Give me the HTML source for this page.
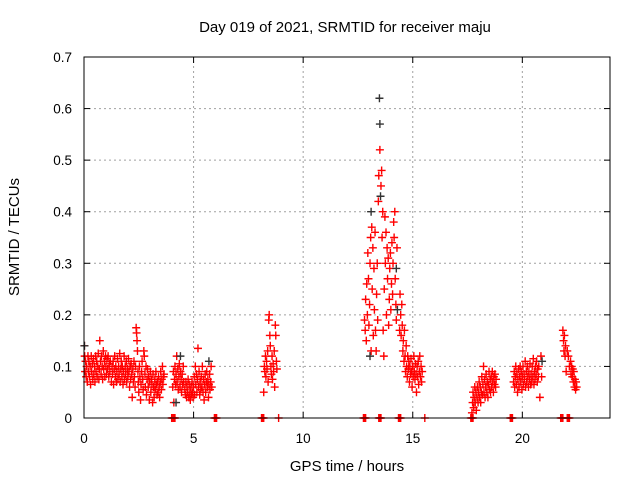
<!DOCTYPE html>
<html><head><meta charset="utf-8"><style>
html,body{margin:0;padding:0;background:#fff;}
svg{display:block;font-family:"Liberation Sans",sans-serif;}
</style></head><body>
<svg id="chart" width="640" height="480" viewBox="0 0 640 480">
<rect x="0" y="0" width="640" height="480" fill="#fff"/>
<text x="345" y="32" font-size="15" text-anchor="middle" fill="#000">Day 019 of 2021, SRMTID for receiver maju</text>
<text x="347" y="471" font-size="15" text-anchor="middle" fill="#000">GPS time / hours</text>
<text transform="translate(19,237) rotate(-90)" font-size="15" text-anchor="middle" fill="#000">SRMTID / TECUs</text>
<g id="grid"></g>
<g id="ticks"></g>
<g id="marks"></g>
<rect x="84" y="57" width="526" height="361" fill="none" stroke="#000" stroke-width="1"/>
</svg>
<script>
const xTicks = [0, 5, 10, 15, 20];
const yTicks = [0, 0.1, 0.2, 0.3, 0.4, 0.5, 0.6, 0.7];
const yTickLabels = ["0", "0.1", "0.2", "0.3", "0.4", "0.5", "0.6", "0.7"];
const redSeries = [
[0.02,.14],[0.03,.12],[0.05,.09],[0.07,.11],[0.1,.08],[0.12,.1],[0.15,.07],[0.18,.12],[0.2,.09],[0.22,.11],[0.25,.08],[0.28,.1],[0.3,.065],[0.33,.12],[0.35,.09],[0.38,.105],[0.4,.075],[0.43,.115],[0.45,.085],[0.48,.1],[0.5,.07],[0.53,.12],[0.55,.09],[0.58,.11],[0.6,.08],[0.63,.1],[0.65,.125],[0.68,.075],[0.7,.095],[0.72,.15],[0.75,.11],[0.78,.085],[0.8,.12],[0.83,.1],[0.85,.075],[0.88,.13],[0.9,.095],[0.93,.11],[0.95,.08],[0.98,.12],[1.0,.1],[1.03,.085],[1.05,.115],[1.08,.095],[1.1,.12],[1.13,.08],[1.15,.105],[1.18,.09],[1.2,.11],[1.25,.07],[1.28,.1],
[1.3,.085],[1.33,.11],[1.35,.065],[1.38,.095],[1.4,.12],[1.43,.08],[1.45,.1],[1.48,.07],[1.5,.09],[1.53,.115],[1.55,.075],[1.58,.1],[1.6,.085],[1.63,.125],[1.65,.07],[1.68,.095],[1.7,.11],[1.73,.08],[1.75,.1],[1.78,.065],[1.8,.09],[1.83,.12],[1.85,.075],[1.88,.1],[1.9,.085],[1.93,.11],[1.95,.07],[1.98,.095],[2.0,.08],[2.03,.115],[2.05,.09],[2.08,.06],[2.1,.1],[2.13,.075],[2.15,.105],[2.18,.085],[2.2,.04],[2.23,.095],[2.25,.07],[2.28,.11],[2.3,.08],[2.33,.06],[2.35,.1],[2.38,.175],[2.4,.165],[2.42,.15],[2.44,.13],[2.46,.09],[2.48,.07],
[2.5,.05],[2.53,.1],[2.55,.08],[2.58,.035],[2.6,.065],[2.63,.09],[2.65,.11],[2.68,.075],[2.7,.055],[2.73,.13],[2.75,.12],[2.78,.085],[2.8,.06],[2.83,.1],[2.85,.045],[2.88,.075],[2.9,.095],[2.93,.06],[2.95,.08],[2.98,.035],[3.0,.07],[3.03,.09],[3.05,.05],[3.08,.075],[3.1,.065],[3.13,.03],[3.15,.085],[3.18,.06],[3.2,.04],[3.23,.075],[3.25,.055],[3.28,.09],[3.3,.065],[3.33,.045],[3.35,.07],[3.38,.05],[3.4,.08],[3.43,.06],[3.45,.04],[3.48,.07],[3.5,.09],[3.53,.055],[3.55,.075],[3.58,.1],[3.6,.065],[3.63,.08],[3.65,.085],
[4.05,.06],[4.08,.09],[4.1,.03],[4.13,.075],[4.15,.1],[4.18,.065],[4.2,.085],[4.23,.12],[4.25,.07],[4.28,.095],[4.3,.055],[4.33,.08],[4.35,.105],[4.38,.06],[4.4,.09],[4.43,.075],[4.45,.05],[4.48,.085],[4.5,.065],[4.53,.1],[4.55,.07],
[4.6,.055],[4.63,.045],[4.65,.07],[4.68,.04],[4.7,.06],[4.73,.05],[4.75,.075],[4.78,.04],[4.8,.065],[4.83,.05],[4.85,.035],[4.88,.06],[4.9,.045],[4.93,.07],[4.95,.05],[4.98,.04],[5.0,.06],[5.03,.08],[5.05,.045],[5.08,.1],[5.1,.065],[5.13,.085],[5.15,.05],[5.18,.075],[5.2,.135],[5.23,.06],[5.25,.09],[5.28,.045],[5.3,.07],[5.33,.055],[5.35,.08],[5.38,.06],[5.4,.1],[5.43,.05],[5.45,.075],[5.48,.035],[5.5,.065],[5.53,.085],[5.55,.05],[5.58,.07],[5.6,.09],[5.63,.06],[5.65,.075],[5.68,.04],[5.7,.065],[5.73,.085],[5.75,.055],[5.78,.07],[5.8,.1],[5.83,.06],
[8.2,.05],[8.23,.1],[8.25,.09],[8.28,.12],[8.3,.08],[8.33,.11],[8.35,.095],[8.38,.13],[8.4,.07],[8.43,.19],[8.45,.2],[8.48,.16],[8.5,.14],[8.53,.1],[8.55,.085],[8.58,.12],[8.6,.075],[8.63,.105],[8.65,.09],[8.68,.13],[8.7,.06],[8.73,.18],[8.75,.16],[8.78,.11],[8.8,.095],
[12.8,.19],[12.83,.17],[12.85,.23],[12.88,.15],[12.9,.26],[12.93,.2],[12.95,.32],[12.98,.27],[13.0,.18],[13.03,.22],[13.05,.3],[13.08,.35],[13.1,.13],[13.13,.37],[13.15,.25],[13.18,.33],[13.2,.16],[13.23,.29],[13.25,.21],[13.28,.36],[13.3,.17],[13.33,.13],[13.35,.24],[13.38,.3],[13.4,.19],[13.43,.42],[13.45,.47],[13.5,.52],[13.55,.45],[13.58,.48],[13.6,.35],[13.63,.4],[13.65,.17],[13.68,.12],[13.7,.25],[13.73,.39],[13.75,.3],[13.78,.36],[13.8,.2],[13.83,.33],[13.85,.27],[13.88,.31],[13.9,.18],[13.93,.23],[13.95,.29],[13.98,.32],[14.0,.21],[14.03,.26],[14.05,.34],[14.08,.24],[14.1,.3],[14.13,.38],[14.15,.35],[14.18,.4],[14.2,.27],[14.23,.22],[14.25,.19],[14.28,.33],
[14.4,.17],[14.42,.24],[14.45,.2],[14.47,.16],[14.5,.22],[14.52,.18],[14.55,.13],[14.57,.15],[14.6,.11],[14.62,.17],[14.65,.12],[14.67,.09],[14.7,.14],[14.72,.1],[14.75,.08],[14.77,.12],[14.8,.095],[14.82,.11],[14.85,.07],[14.87,.1],[14.9,.085],[14.92,.115],[14.95,.09],[14.97,.06],[15.0,.1],[15.02,.08],[15.05,.12],[15.07,.09],[15.1,.075],[15.12,.105],[15.15,.085],[15.17,.05],[15.2,.1],[15.22,.08],[15.25,.11],[15.27,.065],[15.3,.09],[15.32,.12],[15.35,.08],[15.38,.1],[15.4,.07],[15.43,.09],
[17.7,.01],[17.73,.03],[17.75,.05],[17.78,.02],[17.8,.04],[17.83,.06],[17.85,.03],[17.88,.05],[17.9,.015],[17.93,.04],[17.95,.06],[17.98,.03],[18.0,.05],[18.03,.07],[18.05,.04],[18.08,.06],[18.1,.03],[18.13,.05],[18.15,.08],[18.18,.045],[18.2,.065],[18.23,.1],[18.25,.05],[18.28,.075],[18.3,.04],[18.33,.06],[18.35,.085],[18.38,.05],[18.4,.07],[18.43,.04],[18.45,.065],[18.48,.09],[18.5,.055],[18.53,.075],[18.55,.05],[18.58,.08],[18.6,.06],[18.63,.09],[18.65,.07],[18.68,.05],[18.7,.08],[18.73,.065],[18.75,.085],[18.78,.06],[18.8,.075],
[19.6,.07],[19.63,.09],[19.65,.06],[19.68,.08],[19.7,.1],[19.73,.065],[19.75,.085],[19.78,.05],[19.8,.075],[19.83,.095],[19.85,.06],[19.88,.08],[19.9,.1],[19.93,.07],[19.95,.09],[19.98,.055],[20.0,.08],[20.03,.1],[20.05,.065],[20.08,.085],[20.1,.075],[20.13,.11],[20.15,.06],[20.18,.09],[20.2,.07],[20.23,.1],[20.25,.08],[20.28,.06],[20.3,.09],[20.33,.075],[20.35,.105],[20.38,.065],[20.4,.085],[20.43,.07],[20.45,.1],[20.48,.08],[20.5,.115],[20.53,.065],[20.55,.09],[20.58,.075],[20.6,.1],[20.63,.085],[20.65,.11],[20.68,.07],[20.7,.095],[20.73,.08],[20.75,.1],[20.8,.04],[20.85,.12],[20.88,.08],
[21.85,.17],[21.88,.15],[21.9,.13],[21.92,.16],[21.95,.12],[21.97,.14],[22.0,.09],[22.05,.13],[22.1,.12],[22.15,.1],[22.2,.11],[22.22,.085],[22.25,.1],[22.28,.08],[22.3,.095],[22.33,.07],[22.35,.09],[22.38,.06],[22.4,.075],[22.43,.055],[22.45,.07],[22.48,.06],
[4.0,0],[4.05,0],[4.1,0],[4.15,0],[5.95,0],[6.0,0],[6.05,0],[8.1,0],[8.15,0],[8.2,0],[8.88,0],[12.75,0],[12.8,0],[12.85,0],[13.45,0],[13.5,0],[13.55,0],[14.35,0],[14.4,0],[14.45,0],[15.55,0],[17.65,0],[17.7,0],[17.75,0],[19.45,0],[19.5,0],[19.55,0],[21.75,0],[21.8,0],[21.85,0],[22.05,0],[22.1,0],[22.15,0]
];
const blackSeries = [[0.02,.14],[13.48,.62],[13.5,.57],[13.53,.43],[13.1,.4],[13.05,.12],[14.3,.21],[14.25,.29],[4.4,.12],[5.7,.11],[4.2,.03],[20.9,.11]];

const X0=84, X1=610, Y0=418, Y1=57, XMAX=24, YMAX=0.7;
function xScale(v){return X0+(v/XMAX)*(X1-X0);}
function yScale(v){return Y0-(v/YMAX)*(Y0-Y1);}
const NS="http://www.w3.org/2000/svg";
const grid=document.getElementById('grid'), ticks=document.getElementById('ticks'), marks=document.getElementById('marks');
function mk(tag,attrs,parent){const e=document.createElementNS(NS,tag);for(const k in attrs)e.setAttribute(k,attrs[k]);parent.appendChild(e);return e;}

xTicks.forEach(function(t){
  const x=xScale(t);
  if(t>0){
    const g=mk('line',{x1:x,y1:Y0,x2:x,y2:Y1,stroke:'#a0a0a0','stroke-dasharray':'2,3'},grid);
    
    
  }
  const a=mk('line',{x1:x,y1:Y0,x2:x,y2:Y0-6,stroke:'#000'},ticks);
  
  
  const b=mk('line',{x1:x,y1:Y1,x2:x,y2:Y1+6,stroke:'#000'},ticks);
  
  
  const l=mk('text',{x:x,y:443,'font-size':13.5,'text-anchor':'middle',fill:'#000'},ticks);
  l.textContent=String(t);
  
  
});
yTicks.forEach(function(t,i){
  const y=yScale(t);
  if(t>0){
    const g=mk('line',{x1:X0,y1:y,x2:X1,y2:y,stroke:'#a0a0a0','stroke-dasharray':'2,3'},grid);
    
    
  }
  const a=mk('line',{x1:X0,y1:y,x2:X0+6,y2:y,stroke:'#000'},ticks);
  
  
  const b=mk('line',{x1:X1,y1:y,x2:X1-6,y2:y,stroke:'#000'},ticks);
  
  
  const l=mk('text',{x:72,y:y+5,'font-size':13.5,'text-anchor':'end',fill:'#000'},ticks);
  l.textContent=yTickLabels[i];
  
  
});
function plus(p,color,name){
  const x=xScale(p[0]), y=yScale(p[1]);
  const e=mk('path',{d:'M'+(x-4)+' '+y+'H'+(x+4)+'M'+x+' '+(y-4)+'V'+(y+4),stroke:color,'stroke-width':1.4,fill:'none'},marks);
  
  
}
redSeries.forEach(function(p){plus(p,'#ff0000','red-point');});
blackSeries.forEach(function(p){plus(p,'#333333','black-point');});
</script>
</body></html>
